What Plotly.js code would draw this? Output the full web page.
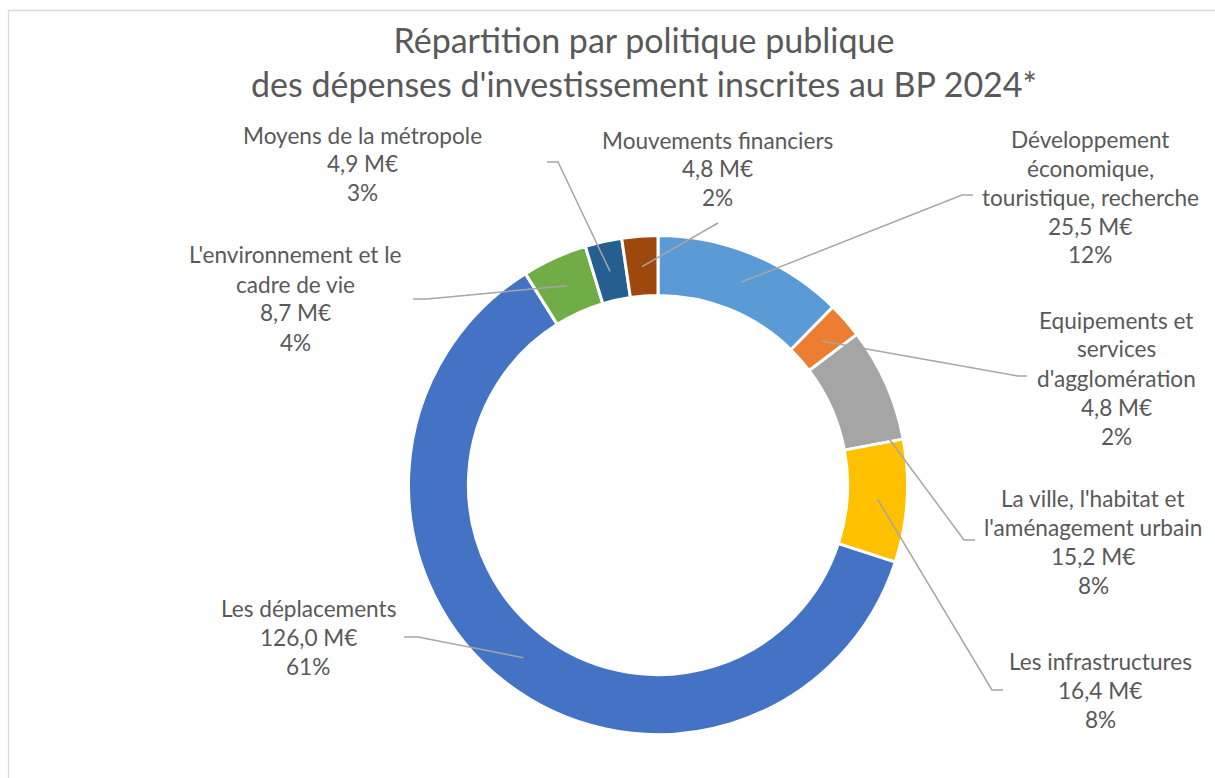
<!DOCTYPE html>
<html>
<head>
<meta charset="utf-8">
<script src="https://cdn.plot.ly/plotly-3.0.1.min.js"></script>
<style>html,body{margin:0;padding:0;background:#fff;}#chart{width:1215px;height:778px;}</style>
</head>
<body>
<div id="chart"></div>
<script>
// ---- data ----
const categories = [
  "Développement<br>économique,<br>touristique, recherche",
  "Equipements et<br>services<br>d'agglomération",
  "La ville, l'habitat et<br>l'aménagement urbain",
  "Les infrastructures",
  "Les déplacements",
  "L'environnement et le<br>cadre de vie",
  "Moyens de la métropole",
  "Mouvements financiers"
];
const valuesMEUR = [25.5, 4.8, 15.2, 16.4, 126.0, 8.7, 4.9, 4.8];
const pctLabels = ["12%", "2%", "8%", "8%", "61%", "4%", "3%", "2%"];
const colors = ["#5B9BD5", "#ED7D31", "#A5A5A5", "#FFC000", "#4472C4", "#70AD47", "#255E91", "#9E480E"];

// ---- layout (pixels) ----
const W = 1215, H = 778;
const CX = 658, CY = 485, R = 249.5, HOLE = 0.76;
const FONT = "Lato, 'Open Sans', sans-serif";
const TXT = "#595959";
const LINE_H = 29;
// label block: centre x, first line y, leader-line start (elbow) points, anchor within slice
const labelPos = [
  {x: 1090, y: 139, lead: [[973,195],[962,195]], frac: 0.5, r: 219},
  {x: 1116, y: 320, lead: [[1027,376],[1018,376]], frac: 0.5, r: 218},
  {x: 1093, y: 498, lead: [[975,540],[964,540]], frac: 0.98, r: 236},
  {x: 1100, y: 661, lead: [[1003,690],[992,690]], frac: 0.5, r: 220},
  {x: 308,  y: 608, lead: [[404,637],[418,637]], frac: 0.5, r: 219},
  {x: 295,  y: 255, lead: [[413,299],[427,299]], frac: 0.5, r: 219},
  {x: 362,  y: 135, lead: [[547,162],[558,162]], frac: 0.5, r: 219},
  {x: 718,  y: 140, lead: [[718,223]], frac: 0.5, r: 219}
];

const px = x => x / W;
const py = y => 1 - y / H;
const fmt = v => v.toFixed(1).replace('.', ',') + ' M€';

const total = valuesMEUR.reduce((a, b) => a + b, 0);
const annotations = [];
const shapes = [];

// chart-area border like the source
shapes.push({type: 'rect', xref: 'paper', yref: 'paper', x0: px(8.5), y0: py(10.5), x1: 1.05, y1: -0.05,
  line: {color: '#D9D9D9', width: 1.3}, fillcolor: 'rgba(0,0,0,0)', layer: 'below'});

let cum = 0;
valuesMEUR.forEach((v, i) => {
  const a0 = cum / total * 2 * Math.PI;
  cum += v;
  const a1 = cum / total * 2 * Math.PI;
  const lp = labelPos[i];
  const th = a0 + (a1 - a0) * lp.frac;
  const ex = CX + lp.r * Math.sin(th), ey = CY - lp.r * Math.cos(th);
  const pts = lp.lead.concat([[ex, ey]]);
  const path = pts.map((p, k) => (k ? 'L' : 'M') + px(p[0]) + ',' + py(p[1])).join(' ');
  shapes.push({type: 'path', xref: 'paper', yref: 'paper', path: path,
    line: {color: '#A6A6A6', width: 1.5}});
  const lines = categories[i].split('<br>').concat([fmt(v), pctLabels[i]]);
  lines.forEach((t, k) => {
    annotations.push({xref: 'paper', yref: 'paper', x: px(lp.x), y: py(lp.y + k * LINE_H),
      xanchor: 'center', yanchor: 'middle', showarrow: false, text: t,
      font: {family: FONT, size: 22.6, color: TXT}});
  });
});

const trace = {
  type: 'pie',
  labels: categories.map(c => c.replace(/<br>/g, ' ')),
  values: valuesMEUR,
  sort: false,
  direction: 'clockwise',
  rotation: 0,
  hole: HOLE,
  textinfo: 'none',
  hoverinfo: 'label+value+percent',
  marker: {colors: colors, line: {color: '#FFFFFF', width: 3}},
  domain: {x: [px(CX - R), px(CX + R)], y: [py(CY + R), py(CY - R)]}
};

const layout = {
  width: W, height: H,
  margin: {l: 0, r: 0, t: 0, b: 0},
  paper_bgcolor: '#FFFFFF',
  showlegend: false,
  title: {
    text: "Répartition par politique publique<br>des dépenses d'investissement inscrites au BP 2024*",
    x: px(644), xanchor: 'center', xref: 'paper',
    y: py(53), yanchor: 'middle', yref: 'container',
    font: {family: FONT, size: 34, color: TXT}
  },
  annotations: annotations,
  shapes: shapes
};

Plotly.newPlot('chart', [trace], layout, {displayModeBar: false, responsive: false});
</script>
</body>
</html>
